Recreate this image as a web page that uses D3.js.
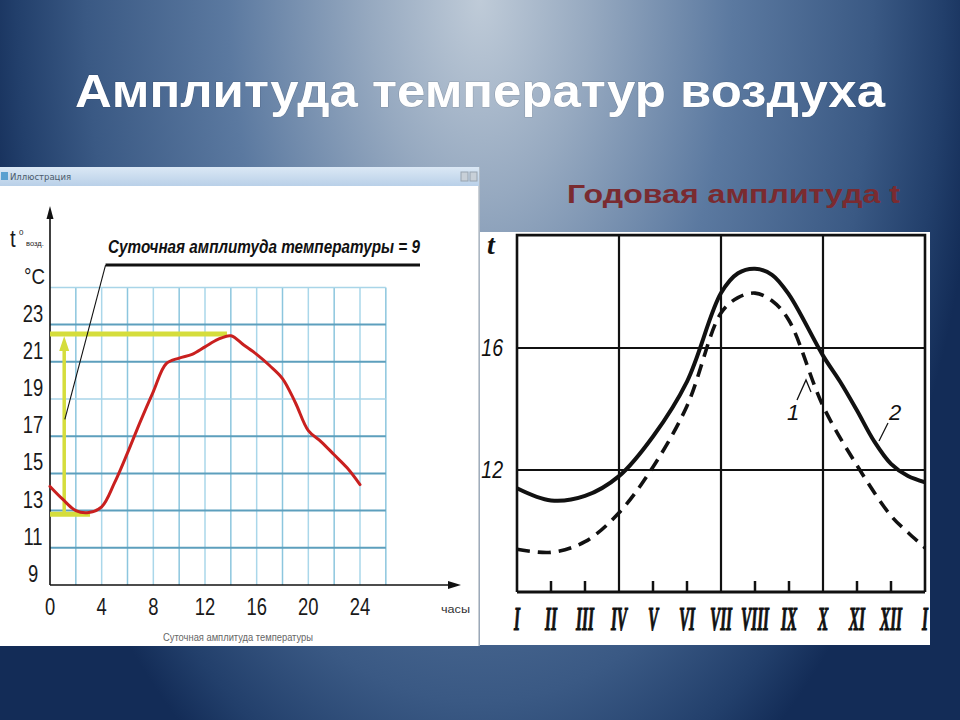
<!DOCTYPE html>
<html><head><meta charset="utf-8">
<script src="https://cdn.jsdelivr.net/npm/d3@7/dist/d3.min.js"></script>
<style>html,body{margin:0;padding:0;background:#1b3763;}svg{display:block;}</style>
</head><body>
<svg id="c" width="960" height="720"></svg>
<script>
// ---- Daily amplitude chart data ----
const hours = [0,1,2,3,4,5,6,7,8,9,10,11,12,13,14,15,16,17,18,19,20,21,22,23,24];
const dailyTemp = [14.3,13.6,13.0,12.9,13.2,14.5,16.1,17.8,19.4,20.9,21.2,21.4,21.8,22.2,22.4,21.9,21.4,20.8,20.1,18.8,17.3,16.7,16.0,15.3,14.4];
const hourTicks = [0,4,8,12,16,20,24];
const hourGrid = [2,4,6,8,10,12,14,16,18,20,22,24,26];
const dailyTempTicks = [9,11,13,15,17,19,21,23];
const dailyTempGrid = [11,13,15,17,19,21,23,25];
const dailyMax = 22.5, dailyMax_hour = 13.7;
const dailyMin = 12.8, dailyMin_hour = 3.1;

// ---- Annual amplitude chart data ----
const months2 = [0,1,2,3,4,5,6,6.5,7,7.5,8,9,9.5,10,10.5,11,11.5,12];
const series2 = [11.4,11.0,11.15,11.8,13.1,14.9,17.8,18.45,18.6,18.4,17.75,15.75,14.9,13.95,12.95,12.2,11.8,11.6]; // solid
const months1 = [0,1,2,3,4,5,6,6.5,7,7.5,8,9,10,11,11.5,12];
const series1 = [9.4,9.3,9.65,10.6,12.1,14.1,17.15,17.65,17.8,17.55,16.9,14.1,12.15,10.5,9.95,9.45];     // dashed
const monthLabels = ["I","II","III","IV","V","VI","VII","VIII","IX","X","XI","XII","I"];
const annualTempTicks = [12,16];
const monthGrid = [3,6,9];

const svg = d3.select("#c");
const defs = svg.append("defs");

// background
const bg = defs.append("radialGradient").attr("id","bg").attr("gradientUnits","userSpaceOnUse")
  .attr("cx",480).attr("cy",0).attr("r",900)
  .attr("gradientTransform","translate(480,0) scale(0.56,1) translate(-480,0)");
[[0,"#bfcbd8"],[0.22,"#96a9c0"],[0.5,"#5b79a0"],[0.78,"#3a5984"],[0.92,"#223f6b"],[1,"#132c57"]]
  .forEach(([o,c])=>bg.append("stop").attr("offset",o).attr("stop-color",c));
svg.append("rect").attr("width",960).attr("height",720).attr("fill","url(#bg)");

// title
svg.append("text").attr("x",480).attr("y",107).attr("text-anchor","middle")
  .attr("font-family","'Liberation Sans', Arial, sans-serif").attr("font-weight","bold")
  .attr("font-size",46).attr("fill","#ffffff").attr("textLength",810).attr("lengthAdjust","spacingAndGlyphs")
  .style("paint-order","stroke").attr("stroke","rgba(0,0,0,0.15)").attr("stroke-width",1)
  .text("Амплитуда температур воздуха");

svg.append("text").attr("x",567).attr("y",203)
  .attr("font-family","'Liberation Sans', Arial, sans-serif").attr("font-weight","bold")
  .attr("font-size",25).attr("fill","#7a2b30").attr("textLength",333).attr("lengthAdjust","spacingAndGlyphs")
  .text("Годовая амплитуда t");

// ================= LEFT PANEL =================
const L = svg.append("g");
L.append("rect").attr("x",0).attr("y",167).attr("width",479).attr("height",479).attr("fill","#ffffff");
L.append("line").attr("x1",479).attr("x2",479).attr("y1",167).attr("y2",646).attr("stroke","#b8c0c8").attr("stroke-width",1.5);
const tb = defs.append("linearGradient").attr("id","tb").attr("x1",0).attr("x2",0).attr("y1",0).attr("y2",1);
tb.append("stop").attr("offset",0).attr("stop-color","#dbe8f5");
tb.append("stop").attr("offset",1).attr("stop-color","#b9d0e8");
L.append("rect").attr("x",0).attr("y",167).attr("width",479).attr("height",19).attr("fill","url(#tb)");
L.append("rect").attr("x",1).attr("y",172).attr("width",7).attr("height",8).attr("fill","#5aa0d0");
L.append("text").attr("x",10).attr("y",180).attr("font-family","'DejaVu Sans', sans-serif").attr("font-size",8.5)
  .attr("fill","#4a5a6a").text("Иллюстрация");
L.append("rect").attr("x",461).attr("y",172).attr("width",7).attr("height",9).attr("fill","#c8d0d8").attr("stroke","#98a4b0");
L.append("rect").attr("x",470).attr("y",172).attr("width",7).attr("height",9).attr("fill","#c8d0d8").attr("stroke","#98a4b0");

const xL = d3.scaleLinear().domain([0,24]).range([50,360]);
const yL = d3.scaleLinear().domain([9,25]).range([585,287.4]);

// grid
L.selectAll(".vg").data(hourGrid).join("line")
  .attr("x1",d=>xL(d)).attr("x2",d=>xL(d)).attr("y1",yL(25)).attr("y2",yL(9))
  .attr("stroke",(d,i)=> (d%4===2 ? "#8cc6de" : "#aad7ea")).attr("stroke-width",1.5);
L.selectAll(".hg").data(dailyTempGrid).join("line")
  .attr("x1",xL(0)).attr("x2",xL(26)).attr("y1",d=>yL(d)).attr("y2",d=>yL(d))
  .attr("stroke",d=> (d===25||d===19) ? "#a9d5e8" : "#5d9fbd").attr("stroke-width",d=> (d===25||d===19)?1.5:2);

// axes with arrows
L.append("line").attr("x1",xL(0)).attr("x2",xL(0)).attr("y1",yL(9)).attr("y2",212).attr("stroke","#111").attr("stroke-width",1.6);
L.append("path").attr("d",`M${xL(0)},206 L${xL(0)-3.5},219 L${xL(0)+3.5},219 Z`).attr("fill","#111");
L.append("line").attr("x1",xL(0)).attr("x2",455).attr("y1",yL(9)).attr("y2",yL(9)).attr("stroke","#111").attr("stroke-width",1.6);
L.append("path").attr("d",`M461,${yL(9)} L448,${yL(9)-4} L448,${yL(9)+4} Z`).attr("fill","#111");

const sans = "'Liberation Sans', Arial, sans-serif";
L.selectAll(".yt").data(dailyTempTicks).join("text")
  .attr("transform",d=>`translate(33,${yL(d)-3}) scale(0.8,1)`).attr("text-anchor","middle")
  .attr("font-family",sans).attr("font-size",23).attr("fill","#1a1a1a").text(d=>d);
L.selectAll(".xt").data(hourTicks).join("text")
  .attr("transform",d=>`translate(${xL(d)},615) scale(0.8,1)`).attr("text-anchor","middle")
  .attr("font-family",sans).attr("font-size",23).attr("fill","#1a1a1a").text(d=>d);

L.append("text").attr("transform","translate(10,247) scale(0.85,1)").attr("font-family",sans).attr("font-size",24).attr("fill","#1a1a1a").text("t");
L.append("text").attr("x",19).attr("y",235).attr("font-family",sans).attr("font-size",8).attr("fill","#1a1a1a").text("0");
L.append("text").attr("x",26).attr("y",246).attr("font-family",sans).attr("font-size",7.5).attr("fill","#1a1a1a").text("возд.");
L.append("text").attr("transform","translate(24,284) scale(0.85,1)").attr("font-family",sans).attr("font-size",22).attr("fill","#1a1a1a").text("°C");
L.append("text").attr("x",441).attr("y",613).attr("font-family",sans).attr("font-size",10.5).attr("fill","#333")
  .attr("textLength",29).attr("lengthAdjust","spacingAndGlyphs").text("часы");
L.append("text").attr("x",238).attr("y",641).attr("text-anchor","middle").attr("font-family",sans).attr("font-size",11)
  .attr("fill","#666").attr("textLength",150).attr("lengthAdjust","spacingAndGlyphs").text("Суточная амплитуда температуры");

// yellow amplitude markers
const yel = "#d5dd3c";
L.append("line").attr("x1",xL(0)).attr("x2",xL(dailyMax_hour)).attr("y1",yL(dailyMax)).attr("y2",yL(dailyMax))
  .attr("stroke",yel).attr("stroke-width",5);
L.append("line").attr("x1",xL(0)).attr("x2",xL(dailyMin_hour)).attr("y1",yL(dailyMin)).attr("y2",yL(dailyMin))
  .attr("stroke",yel).attr("stroke-width",5);
const ax = xL(1.1);
L.append("line").attr("x1",ax).attr("x2",ax).attr("y1",yL(dailyMin)).attr("y2",yL(dailyMax)+14)
  .attr("stroke",yel).attr("stroke-width",3.5);
L.append("path").attr("d",`M${ax},${yL(dailyMax)+2} L${ax-5},${yL(dailyMax)+17} L${ax+5},${yL(dailyMax)+17} Z`).attr("fill",yel);

// red curve
const lineL = d3.line().x((d,i)=>xL(hours[i])).y(d=>yL(d)).curve(d3.curveCatmullRom);
L.append("path").attr("d",lineL(dailyTemp)).attr("fill","none").attr("stroke","#c9201f").attr("stroke-width",3)
  .attr("stroke-linejoin","round").attr("stroke-linecap","round");

// annotation
L.append("line").attr("x1",xL(1.15)).attr("y1",yL(17.9)).attr("x2",xL(4.3)).attr("y2",yL(26.2))
  .attr("stroke","#111").attr("stroke-width",1.1);
L.append("line").attr("x1",xL(4.3)).attr("x2",420).attr("y1",yL(26.2)).attr("y2",yL(26.2)).attr("stroke","#111").attr("stroke-width",3);
L.append("text").attr("x",108).attr("y",253).attr("font-family",sans).attr("font-style","italic").attr("font-weight","bold")
  .attr("font-size",18).attr("fill","#111").attr("textLength",312).attr("lengthAdjust","spacingAndGlyphs")
  .text("Суточная амплитуда температуры = 9");

// ================= RIGHT PANEL =================
const R = svg.append("g");
R.append("rect").attr("x",480).attr("y",232).attr("width",450).attr("height",413).attr("fill","#ffffff");

const xR = d3.scaleLinear().domain([0,12]).range([517,925]);
const yR = d3.scaleLinear().domain([8,20]).range([592,226]);
const topV = 19.7;

// grid
R.selectAll(".mg").data(monthGrid).join("line")
  .attr("x1",d=>xR(d)).attr("x2",d=>xR(d)).attr("y1",yR(topV)).attr("y2",yR(8))
  .attr("stroke","#111").attr("stroke-width",2.2);
R.selectAll(".tg").data(annualTempTicks).join("line")
  .attr("x1",xR(0)).attr("x2",xR(12)).attr("y1",d=>yR(d)).attr("y2",d=>yR(d))
  .attr("stroke","#111").attr("stroke-width",2.2);
// frame
R.append("path").attr("d",`M${xR(0)},${yR(8)} L${xR(0)},${yR(topV)} L${xR(12)},${yR(topV)} L${xR(12)},${yR(8)}`)
  .attr("fill","none").attr("stroke","#111").attr("stroke-width",2.6);
R.append("line").attr("x1",xR(0)).attr("x2",xR(12)).attr("y1",yR(8)).attr("y2",yR(8)).attr("stroke","#111").attr("stroke-width",3);
// ticks
R.selectAll(".mt").data(d3.range(1,12).filter(m=>!monthGrid.includes(m))).join("line")
  .attr("x1",d=>xR(d)).attr("x2",d=>xR(d)).attr("y1",yR(8)).attr("y2",yR(8)-11)
  .attr("stroke","#111").attr("stroke-width",2.5);

// curves
const lineR = (ms)=> d3.line().x((d,i)=>xR(ms[i])).y(d=>yR(d)).curve(d3.curveCatmullRom);
R.append("path").attr("d",lineR(months2)(series2)).attr("fill","none").attr("stroke","#111").attr("stroke-width",4);
R.append("path").attr("d",lineR(months1)(series1)).attr("fill","none").attr("stroke","#111").attr("stroke-width",3.6)
  .attr("stroke-dasharray","13,8");

// labels
const serif = "'Liberation Serif', 'DejaVu Serif', serif";
R.append("text").attr("x",487).attr("y",254).attr("font-family",serif).attr("font-style","italic").attr("font-weight","bold")
  .attr("font-size",28).attr("fill","#111").text("t");
R.selectAll(".at").data(annualTempTicks).join("text")
  .attr("transform",d=>`translate(503,${yR(d)+8}) scale(0.85,1)`).attr("text-anchor","end")
  .attr("font-family",sans).attr("font-style","italic").attr("font-size",23).attr("fill","#111").text(d=>d);
R.selectAll(".ml").data(monthLabels).join("text")
  .attr("transform",(d,i)=>`translate(${xR(i)},630) scale(0.45,1)`)
  .attr("text-anchor","middle").attr("font-family",serif).attr("font-style","italic").attr("font-weight","bold")
  .attr("font-size",34).attr("fill","#111").attr("stroke","#111").attr("stroke-width",1.2).text(d=>d);

// curve labels
R.append("text").attr("x",787).attr("y",420).attr("font-family",sans).attr("font-style","italic").attr("font-size",22).attr("fill","#111").text("1");
R.append("path").attr("d",`M797,400 L806,380 L811,392`).attr("fill","none").attr("stroke","#111").attr("stroke-width",1.3);
R.append("text").attr("x",889).attr("y",420).attr("font-family",sans).attr("font-style","italic").attr("font-size",22).attr("fill","#111").text("2");
R.append("line").attr("x1",888).attr("y1",423).attr("x2",879).attr("y2",441).attr("stroke","#111").attr("stroke-width",1.3);
</script>
</body></html>
